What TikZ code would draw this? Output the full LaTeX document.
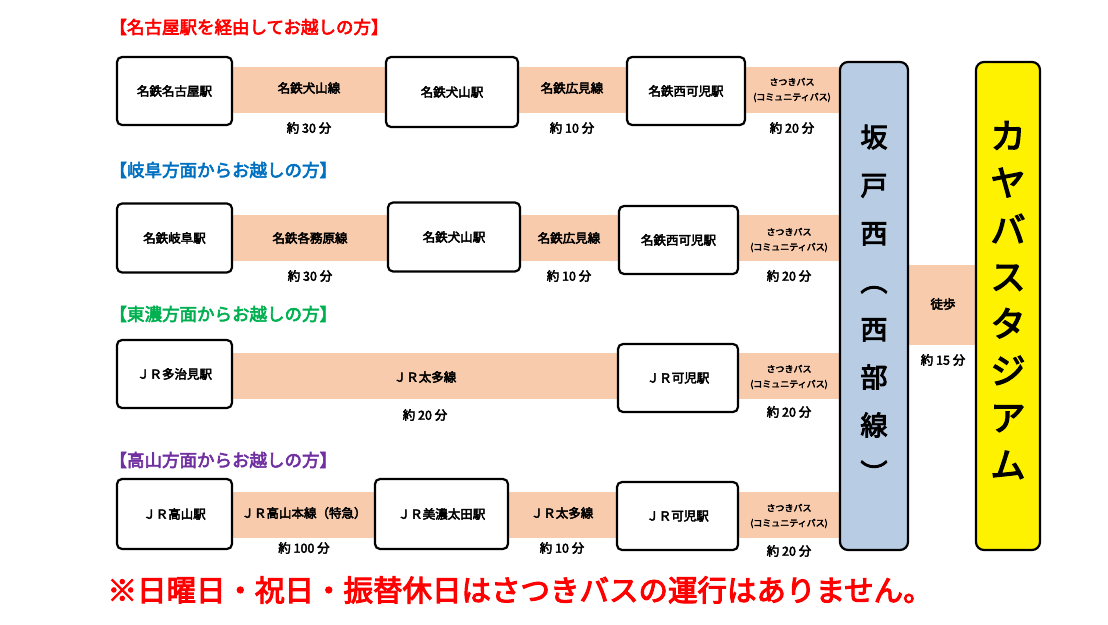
\documentclass[tikz,border=0pt]{standalone}
\usepackage{fontspec}
\setmainfont{Noto Sans CJK JP}[AutoFakeBold=3.5]
\begin{document}
\begin{tikzpicture}[x=1pt,y=-1pt,
  stn/.style={draw=black,line width=2.2pt,rounded corners=5pt,fill=white,font=\bfseries\fontsize{12.5}{14}\selectfont,align=center},
  band/.style={fill=peach,draw=none},
  lbl/.style={font=\bfseries\fontsize{12.5}{14}\selectfont,align=center},
  tm/.style={font=\bfseries\fontsize{12.5}{14}\selectfont},
  bus/.style={font=\bfseries\fontsize{9}{15}\selectfont,align=center},
  hdr/.style={font=\bfseries\fontsize{17.5}{19}\selectfont,anchor=west}]
\definecolor{peach}{HTML}{F8CBAD}
\definecolor{hblue}{HTML}{0070C0}
\definecolor{hgreen}{HTML}{00B050}
\definecolor{hpurple}{HTML}{7030A0}
\definecolor{lblue}{HTML}{B8CCE4}
\useasboundingbox (0,0) rectangle (1108,624);
% headers
\node[hdr,text=red] (h1) at (106,27) {【名古屋駅を経由してお越しの方】};
\node[hdr,text=hblue] (h2) at (106,170) {【岐阜方面からお越しの方】};
\node[hdr,text=hgreen] (h3) at (106,314) {【東濃方面からお越しの方】};
\node[hdr,text=hpurple] (h4) at (106,460) {【高山方面からお越しの方】};
% bands
\fill[band] (232,67) rectangle (840,113);
\fill[band] (232,215) rectangle (840,261);
\fill[band] (232,353) rectangle (840,399);
\fill[band] (232,492) rectangle (840,538);
\fill[band] (905,265) rectangle (980,345);
% row 1
\node[stn,minimum width=115pt,minimum height=68pt] (a1) at (174.5,91) {名鉄名古屋駅};
\node[stn,minimum width=132pt,minimum height=70pt] (a2) at (452,92) {名鉄犬山駅};
\node[stn,minimum width=118pt,minimum height=68pt] (a3) at (686,91) {名鉄西可児駅};
\node[lbl] (a12) at (309,88) {名鉄犬山線};
\node[lbl] (a23) at (572,88) {名鉄広見線};
\node[bus] (a3b) at (792,90) {さつきバス\\(コミュニティバス)};
\node[tm] (t11) at (309,128) {約 30 分};
\node[tm] (t12) at (572,128) {約 10 分};
\node[tm] (t13) at (792,128) {約 20 分};
% row 2
\node[stn,minimum width=115pt,minimum height=69pt] (b1) at (174.5,238) {名鉄岐阜駅};
\node[stn,minimum width=132pt,minimum height=69pt] (b2) at (454,237) {名鉄犬山駅};
\node[stn,minimum width=119pt,minimum height=68pt] (b3) at (678.5,240) {名鉄西可児駅};
\node[lbl] (b12) at (310,238) {名鉄各務原線};
\node[lbl] (b23) at (569,238) {名鉄広見線};
\node[bus] (b3b) at (789,240) {さつきバス\\(コミュニティバス)};
\node[tm] (t21) at (310,276) {約 30 分};
\node[tm] (t22) at (569,276) {約 10 分};
\node[tm] (t23) at (789,276) {約 20 分};
% row 3
\node[stn,minimum width=115pt,minimum height=68pt] (c1) at (174.5,374) {ＪＲ多治見駅};
\node[stn,minimum width=120pt,minimum height=68pt] (c2) at (678,378) {ＪＲ可児駅};
\node[lbl] (c12) at (425,377) {ＪＲ太多線};
\node[bus] (c2b) at (789,377) {さつきバス\\(コミュニティバス)};
\node[tm] (t31) at (425,415) {約 20 分};
\node[tm] (t32) at (789,412) {約 20 分};
% row 4
\node[stn,minimum width=115pt,minimum height=70pt] (d1) at (174.5,514) {ＪＲ高山駅};
\node[stn,minimum width=133pt,minimum height=70pt] (d2) at (441.5,514) {ＪＲ美濃太田駅};
\node[stn,minimum width=121pt,minimum height=68pt] (d3) at (677.5,516) {ＪＲ可児駅};
\node[lbl] (d12) at (304,513) {ＪＲ高山本線（特急）};
\node[lbl] (d23) at (562,513) {ＪＲ太多線};
\node[bus] (d3b) at (789,516) {さつきバス\\(コミュニティバス)};
\node[tm] (t41) at (304,548) {約 100 分};
\node[tm] (t42) at (562,548) {約 10 分};
\node[tm] (t43) at (789,551) {約 20 分};
% tall boxes
\node[draw=black,line width=2.2pt,rounded corners=8pt,fill=lblue,minimum width=68pt,minimum height=488pt] (sk) at (874,306) {};
\node[font=\bfseries\fontsize{27}{48}\selectfont,align=center] (skt) at (874,304) {坂\\戸\\西\\︵\\西\\部\\線\\︶};
\node[lbl] (walk) at (943,304) {徒歩};
\node[tm] (t5) at (943,360) {約 15 分};
\node[draw=black,line width=2.2pt,rounded corners=8pt,fill=yellow,minimum width=64pt,minimum height=488pt] (ky) at (1008,306) {};
\node[font=\bfseries\fontsize{35}{47}\selectfont,align=center] (kyt) at (1008,300) {カ\\ヤ\\バ\\ス\\タ\\ジ\\ア\\ム};
% footer
\node[font=\bfseries\fontsize{29.5}{31}\selectfont,text=red,anchor=west] (ft) at (104,590) {※日曜日・祝日・振替休日はさつきバスの運行はありません。};
\end{tikzpicture}
\end{document}
